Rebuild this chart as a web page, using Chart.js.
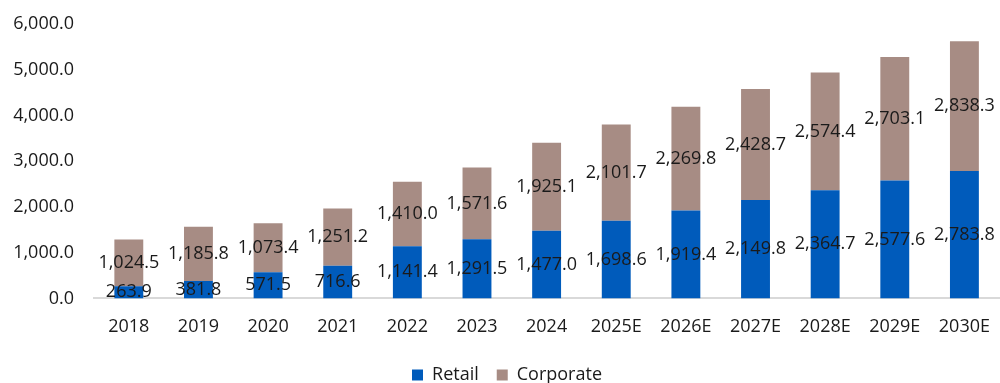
<!DOCTYPE html>
<html lang="en">
<head>
    <meta charset="UTF-8">
    <title>Retail vs Corporate</title>
    <script src="https://cdn.jsdelivr.net/npm/chart.js"></script>
    <style>
        body { margin: 0; padding: 0; background: #fff; }
        #wrap { width: 1000px; height: 383px; }
    </style>
</head>
<body>
    <div id="wrap"><canvas id="chart" width="1000" height="383"></canvas></div>

    <script>
        const years = ['2018', '2019', '2020', '2021', '2022', '2023', '2024', '2025E', '2026E', '2027E', '2028E', '2029E', '2030E'];
        const retail = [263.9, 381.8, 571.5, 716.6, 1141.4, 1291.5, 1477.0, 1698.6, 1919.4, 2149.8, 2364.7, 2577.6, 2783.8];
        const corporate = [1024.5, 1185.8, 1073.4, 1251.2, 1410.0, 1571.6, 1925.1, 2101.7, 2269.8, 2428.7, 2574.4, 2703.1, 2838.3];
        const yTicks = [0, 1000, 2000, 3000, 4000, 5000, 6000];

        const fmt = v => v.toLocaleString('en-US', { minimumFractionDigits: 1, maximumFractionDigits: 1 });
        const FONT = "'Open Sans', sans-serif";

        // draw value labels centred in each segment
        const segmentLabels = {
            id: 'segmentLabels',
            afterDatasetsDraw(chart) {
                const ctx = chart.ctx;
                ctx.save();
                ctx.font = '18px ' + FONT;
                ctx.fillStyle = '#1a1a1a';
                ctx.textAlign = 'center';
                ctx.textBaseline = 'middle';
                chart.data.datasets.forEach((ds, i) => {
                    chart.getDatasetMeta(i).data.forEach((bar, j) => {
                        const mid = (bar.y + bar.base) / 2;
                        ctx.fillText(fmt(ds.data[j]), bar.x, mid);
                    });
                });
                ctx.restore();
            }
        };

        new Chart(document.getElementById('chart'), {
            type: 'bar',
            data: {
                labels: years,
                datasets: [
                    { label: 'Retail', data: retail, backgroundColor: '#005bbb', barPercentage: 0.83, categoryPercentage: 0.5 },
                    { label: 'Corporate', data: corporate, backgroundColor: '#a78c84', barPercentage: 0.83, categoryPercentage: 0.5 }
                ]
            },
            options: {
                responsive: false,
                animation: false,
                layout: { padding: { left: 12, right: -2, top: 24, bottom: -11 } },
                plugins: {
                    legend: {
                        position: 'bottom',
                        labels: { font: { family: FONT, size: 18 }, color: '#1a1a1a', boxWidth: 11, boxHeight: 11, padding: 18 }
                    },
                    tooltip: { enabled: false }
                },
                scales: {
                    x: {
                        stacked: true,
                        grid: { display: false },
                        border: { color: '#d9d9d9', width: 2 },
                        ticks: { font: { family: FONT, size: 18 }, color: '#1a1a1a', padding: 10 }
                    },
                    y: {
                        stacked: true,
                        min: 0,
                        max: 6000,
                        afterBuildTicks: axis => { axis.ticks = yTicks.map(v => ({ value: v })); },
                        afterFit: axis => { axis.width = 82; },
                        grid: { display: false },
                        border: { display: false },
                        ticks: { font: { family: FONT, size: 18 }, color: '#1a1a1a', padding: 12, callback: v => fmt(v) }
                    }
                }
            },
            plugins: [segmentLabels]
        });
    </script>
</body>
</html>
